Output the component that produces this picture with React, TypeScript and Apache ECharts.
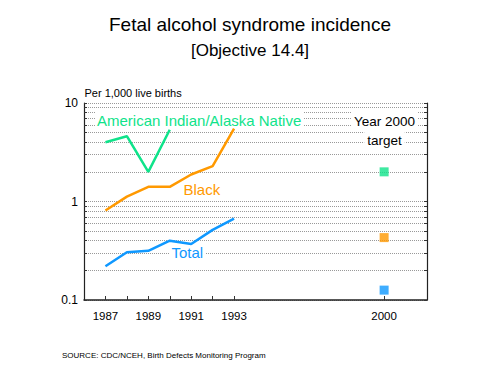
import React, { useEffect, useRef } from "react";
import * as echarts from "echarts";

const years = [1987, 1988, 1989, 1990, 1991, 1992, 1993];
const aianValues = [4.0, 4.6, 2.0, 5.35];
const blackValues = [0.81, 1.12, 1.41, 1.41, 1.88, 2.29, 5.5];
const totalValues = [0.22, 0.305, 0.316, 0.4, 0.37, 0.515, 0.67];
const targetYear = 2000;
const targetAian = 2.0;
const targetBlack = 0.43;
const targetTotal = 0.126;
const xTickYears = [1987, 1988, 1989, 1990, 1991, 1992, 1993, 2000];
const xLabelYears = [1987, 1989, 1991, 1993, 2000];
const yGridValues = [0.1, 0.2, 0.3, 0.4, 0.5, 0.6, 0.7, 0.8, 0.9, 1, 2, 3, 4, 5, 6, 7, 8, 9, 10];
const yLabelValues = [0.1, 1, 10];

const GREEN = "#0fe38a";
const ORANGE = "#ff9900";
const BLUE = "#0f98ff";
const FONT = "Liberation Sans, Arial, sans-serif";

export default function App() {
  const ref = useRef<HTMLDivElement>(null);
  useEffect(() => {
    if (!ref.current) return;
    const chart = echarts.init(ref.current, undefined, { renderer: "svg" });
    const pair = (vals: number[]) => vals.map((v, i) => [years[i], v]);
    const yAxisBase = {
      type: "log",
      logBase: 10,
      min: 0.1,
      max: 10,
      axisLine: { show: true, lineStyle: { color: "#222", width: 1.2 } },
      axisTick: { show: true, inside: true, length: 3, customValues: yGridValues, lineStyle: { color: "#333", width: 1 } },
    };
    chart.setOption({
      animation: false,
      backgroundColor: "#fff",
      grid: { left: 84, right: 73, top: 103, bottom: 78, containLabel: false },
      xAxis: {
        type: "value",
        min: 1986,
        max: 2002,
        interval: 1,
        axisLine: { show: true, lineStyle: { color: "#222", width: 1.5 } },
        axisTick: { show: true, inside: true, length: 4, customValues: xTickYears, lineStyle: { color: "#333", width: 1 } },
        axisLabel: {
          customValues: xLabelYears,
          color: "#000",
          fontSize: 11.5,
          fontFamily: FONT,
          margin: 10,
          formatter: (v: number) => String(v),
        },
        splitLine: { show: false },
      },
      yAxis: [
        {
          ...yAxisBase,
          position: "left",
          axisLabel: {
            customValues: yLabelValues,
            color: "#000",
            fontSize: 12,
            fontFamily: FONT,
            margin: 6,
            formatter: (v: number) => String(Math.round(v * 10) / 10),
          },
          splitLine: { show: true, lineStyle: { color: "#999", type: [1, 1], width: 1 } },
        },
        {
          ...yAxisBase,
          position: "right",
          axisLabel: { show: false },
          splitLine: { show: false },
        },
      ],
      series: [
        {
          name: "American Indian/Alaska Native",
          type: "line",
          data: pair(aianValues),
          symbol: "none",
          lineStyle: { color: GREEN, width: 2.5 },
          z: 3,
        },
        {
          name: "Black",
          type: "line",
          data: pair(blackValues),
          symbol: "none",
          lineStyle: { color: ORANGE, width: 2.5 },
          z: 3,
        },
        {
          name: "Total",
          type: "line",
          data: pair(totalValues),
          symbol: "none",
          lineStyle: { color: BLUE, width: 2.5 },
          z: 3,
        },
        {
          name: "Targets",
          type: "scatter",
          symbol: "rect",
          symbolSize: 9,
          z: 4,
          data: [
            { value: [targetYear, targetAian], itemStyle: { color: GREEN } },
            { value: [targetYear, targetBlack], itemStyle: { color: ORANGE } },
            { value: [targetYear, targetTotal], itemStyle: { color: BLUE } },
          ],
        },
      ],
      graphic: [
        {
          type: "text", x: 250, y: 24, z: 1,
          style: { text: "Fetal alcohol syndrome incidence", fontSize: 19, fontFamily: FONT, fill: "#000", textAlign: "center", textVerticalAlign: "middle" },
        },
        {
          type: "text", x: 250, y: 50.5, z: 1,
          style: { text: "[Objective 14.4]", fontSize: 17, fontFamily: FONT, fill: "#000", textAlign: "center", textVerticalAlign: "middle" },
        },
        {
          type: "text", x: 84.5, y: 92.5, z: 1,
          style: { text: "Per 1,000 live births", fontSize: 11, fontFamily: FONT, fill: "#000", textAlign: "left", textVerticalAlign: "middle" },
        },
        {
          type: "text", x: 95, y: 120, z: 1,
          style: { text: "American Indian/Alaska Native", fontSize: 15, fontFamily: FONT, fill: GREEN, textAlign: "left", textVerticalAlign: "middle", backgroundColor: "#fff", padding: [1, 2] },
        },
        {
          type: "text", x: 181.5, y: 189.5, z: 1,
          style: { text: "Black", fontSize: 15, fontFamily: FONT, fill: ORANGE, textAlign: "left", textVerticalAlign: "middle", backgroundColor: "#fff", padding: [1, 2] },
        },
        {
          type: "text", x: 169.5, y: 252.5, z: 1,
          style: { text: "Total", fontSize: 15, fontFamily: FONT, fill: BLUE, textAlign: "left", textVerticalAlign: "middle", backgroundColor: "#fff", padding: [1, 2] },
        },
        {
          type: "text", x: 384.5, y: 121, z: 1,
          style: { text: "Year 2000", fontSize: 13.5, fontFamily: FONT, fill: "#000", textAlign: "center", textVerticalAlign: "middle", backgroundColor: "#fff", padding: [3, 3] },
        },
        {
          type: "text", x: 384.5, y: 140, z: 1,
          style: { text: "target", fontSize: 13.5, fontFamily: FONT, fill: "#000", textAlign: "center", textVerticalAlign: "middle", backgroundColor: "#fff", padding: [2, 3] },
        },
        {
          type: "text", x: 62, y: 355, z: 1,
          style: { text: "SOURCE: CDC/NCEH, Birth Defects Monitoring Program", fontSize: 8, fontFamily: FONT, fill: "#000", textAlign: "left", textVerticalAlign: "middle" },
        },
      ],
    });
    return () => chart.dispose();
  }, []);
  return (
    <div
      ref={ref}
      style={{ position: "fixed", left: 0, top: 0, width: 500, height: 378, background: "#fff" }}
    />
  );
}
